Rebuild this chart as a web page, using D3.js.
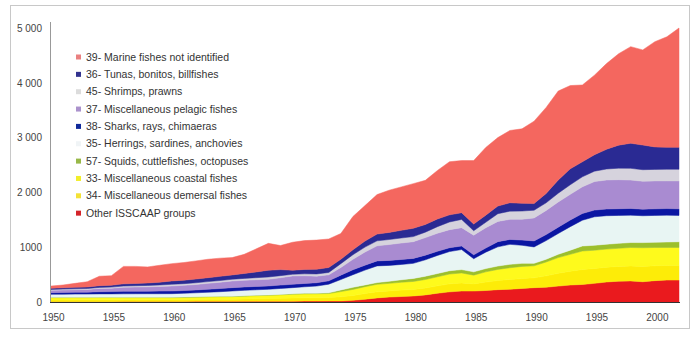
<!DOCTYPE html>
<html>
<head>
<meta charset="utf-8">
<script src="https://cdn.jsdelivr.net/npm/d3@7"></script>
<style>
  body { margin: 0; background: #fff; }
  text { font-family: "Liberation Sans", Arial, sans-serif; }
</style>
</head>
<body>
<div id="mainDiv"></div>
<script>
'use strict';

// anos
var years = [];
for (var yr = 1950; yr <= 2002; yr++) years.push(yr);

// valores por grupo (mil toneladas), de baixo para cima
var otherGroups = [5,5,5,5,5,5,8,8,10,10, 10,10,12,12,12,12,15,15,15,15, 15,18,18,20,20,30,50,75,90,100,
  110,130,160,185,200,200,210,225,232,248, 262,270,290,310,320,340,365,380,384,370, 390,400,400];
var demersal = [33,33,34,34,34,34,32,32,31,31, 31,32,34,36,38,39,41,45,48,52, 57,58,59,60,76,90,104,112,113,117,
  119,126,135,146,149,130,153,167,177,181, 179,207,234,252,275,272,270,270,275,279, 272,268,267];
var coastal = [41,41,41,41,42,42,40,40,39,39, 38,40,42,44,46,47,51,55,59,63, 69,72,73,74,94,110,126,136,137,143,
  146,154,165,179,181,160,187,203,216,221, 219,253,286,308,335,333,330,330,335,341, 333,327,327];
var squids = [6,6,6,6,7,7,7,8,8,8, 9,9,8,8,7,7,8,8,8,9, 9,10,11,13,30,38,32,31,38,45,
  55,60,60,60,61,60,60,61,62,55, 45,50,60,75,92,90,90,90,91,94, 95,100,106];
var herrings = [56,57,58,58,60,60,62,62,63,63, 64,68,72,78,85,96,98,100,102,108, 112,120,130,158,190,230,270,305,290,280,
  275,300,330,350,366,240,300,350,365,330, 300,340,380,430,470,520,520,510,500,490, 490,490,480];
var sharks = [30,32,34,36,40,42,45,45,46,48, 49,50,52,55,58,61,61,61,61,61, 61,61,61,61,80,90,90,91,91,91,
  91,85,75,70,65,70,75,95,90,95, 110,110,115,120,123,122,122,122,122,120, 120,120,120];
var pelagic = [44,46,48,50,60,62,75,78,80,85, 92,95,100,108,115,122,122,122,122,135, 153,140,120,110,140,190,240,275,290,300,
  305,320,330,330,335,360,370,370,366,380, 420,440,460,470,487,520,530,530,518,510, 510,505,510];
var shrimps = [14,15,16,16,18,20,22,24,25,27, 30,30,31,31,31,31,35,38,42,38, 30,35,40,43,70,85,90,91,91,92,
  92,100,120,140,150,80,100,140,150,150, 140,140,160,175,183,190,200,210,214,210, 210,212,212];
var tunas = [22,24,26,28,32,34,40,42,45,50, 61,64,68,72,76,79,90,105,123,110, 74,80,85,91,80,90,110,123,130,140,
  152,140,140,130,122,122,130,140,153,140, 121,170,240,290,274,300,360,420,458,450, 410,400,400];
var marine = [39,51,72,96,172,174,319,311,293,309, 316,322,331,336,332,316,349,421,490,439, 510,526,533,520,470,607,648,721,770,792,
  815,805,885,970,951,1158,1235,1249,1319,1360, 1504,1570,1625,1520,1401,1453,1563,1668,1763,1736, 1920,2018,2178];

// legenda (de cima para baixo)
var legendLabels = ['39- Marine fishes not identified', '36- Tunas, bonitos, billfishes', '45- Shrimps, prawns',
  '37- Miscellaneous pelagic fishes', '38- Sharks, rays, chimaeras', '35- Herrings, sardines, anchovies',
  '57- Squids, cuttlefishes, octopuses', '33- Miscellaneous coastal fishes', '34- Miscellaneous demersal fishes',
  'Other ISSCAAP groups'];

// ticks
var yTicks = [0, 1000, 2000, 3000, 4000, 5000];
var yTickLabels = ['0', '1000', '2 000', '3 000', '4 000', '5 000'];
var xTicks = [1950, 1955, 1960, 1965, 1970, 1975, 1980, 1985, 1990, 1995, 2000];

var areaChart = {};

areaChart.w = 700;
areaChart.h = 338;

areaChart.keys = ['other', 'demersal', 'coastal', 'squids', 'herrings', 'sharks', 'pelagic', 'shrimps', 'tunas', 'marine'];
areaChart.series = [otherGroups, demersal, coastal, squids, herrings, sharks, pelagic, shrimps, tunas, marine];
areaChart.colors = ['#ea1a1e', '#fdec08', '#fefa1c', '#9cbf2c', '#e8f5f3', '#0b16a2', '#a98bd1', '#d6d3dd', '#2a2a93', '#f4675f'];
areaChart.legendColors = ['#ea8080', '#33338f', '#dcdcdc', '#ab92cc', '#102a9a', '#f0f4f6', '#98b848', '#f2ee2a', '#f4e236', '#d4242a'];

areaChart.xScale = d3.scaleLinear().domain([1950, 2002]).range([51, 679]);
areaChart.yScale = d3.scaleLinear().domain([0, 5000]).range([302, 28]);

areaChart.appendSvg = function(div)
{
    var node = d3.select(div).append('svg')
        .attr('width', areaChart.w)
        .attr('height', areaChart.h);
    return node;
}

areaChart.appendFrame = function(svg)
{
    svg.append('rect')
        .attr('x', 10.5).attr('y', 5.5)
        .attr('width', 679).attr('height', 323)
        .attr('fill', 'none')
        .attr('stroke', '#c8c8c8')
        .attr('stroke-width', 1);
}

areaChart.appendAreas = function(svg)
{
    var table = years.map(function(y, i) {
        var row = {year: y};
        areaChart.keys.forEach(function(k, j) { row[k] = areaChart.series[j][i]; });
        return row;
    });

    var stack = d3.stack().keys(areaChart.keys);
    var layers = stack(table);

    var area = d3.area()
        .x(function(d) { return areaChart.xScale(d.data.year); })
        .y0(function(d) { return areaChart.yScale(d[0]); })
        .y1(function(d) { return areaChart.yScale(d[1]); });

    svg.append('g').selectAll('path')
        .data(layers)
        .enter()
        .append('path')
        .attr('fill', function(d, i) { return areaChart.colors[i]; })
        .attr('stroke', function(d, i) { return areaChart.colors[i]; })
        .attr('stroke-width', 0.5)
        .attr('d', area);
}

areaChart.createAxis = function(svg)
{
    var yAxis = d3.axisLeft(areaChart.yScale)
        .tickValues(yTicks)
        .tickSize(0)
        .tickPadding(8)
        .tickFormat(function(d, i) { return yTickLabels[i]; });

    var yg = svg.append('g')
        .attr('transform', 'translate(50,0)')
        .call(yAxis);
    yg.select('.domain').remove();
    yg.selectAll('text').attr('fill', '#444').style('font-size', '10px');

    svg.append('line')
        .attr('x1', 50.5).attr('x2', 50.5)
        .attr('y1', 22).attr('y2', 302)
        .attr('stroke', '#999');

    var xAxis = d3.axisBottom(areaChart.xScale)
        .tickValues(xTicks)
        .tickSize(0)
        .tickPadding(12)
        .tickFormat(d3.format('d'));

    var xg = svg.append('g')
        .attr('transform', 'translate(2,302)')
        .call(xAxis);
    xg.select('.domain').remove();
    xg.selectAll('text').attr('fill', '#444').style('font-size', '10px');

    svg.append('line')
        .attr('x1', 50).attr('x2', 680)
        .attr('y1', 302.5).attr('y2', 302.5)
        .attr('stroke', '#333');
}

areaChart.addLegend = function(svg)
{
    var g = svg.append('g').attr('transform', 'translate(76,57)');

    var rows = g.selectAll('g')
        .data(legendLabels)
        .enter()
        .append('g')
        .attr('transform', function(d, i) { return 'translate(0,' + (i * 17.35) + ')'; });

    rows.append('rect')
        .attr('x', 0).attr('y', -2.5)
        .attr('width', 5).attr('height', 5)
        .attr('fill', function(d, i) { return areaChart.legendColors[i]; });

    rows.append('text')
        .attr('x', 10)
        .attr('y', 0)
        .attr('dy', '0.35em')
        .attr('fill', '#333')
        .style('font-size', '10.5px')
        .text(function(d) { return d; });
}

areaChart.run = function()
{
    var svg = areaChart.appendSvg('#mainDiv');
    areaChart.appendFrame(svg);
    areaChart.appendAreas(svg);
    areaChart.createAxis(svg);
    areaChart.addLegend(svg);
}

window.onload = areaChart.run;
</script>
</body>
</html>
